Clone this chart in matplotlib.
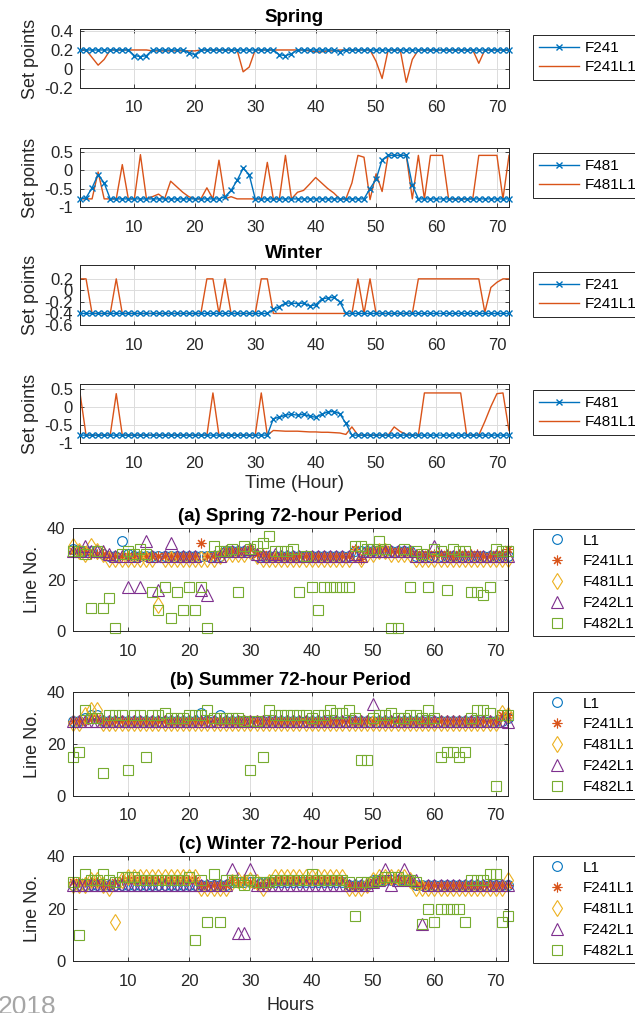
import numpy as np
import matplotlib
matplotlib.use('Agg')
import matplotlib.pyplot as plt

plt.rcParams['font.family'] = ['Liberation Sans', 'DejaVu Sans']
plt.rcParams['axes.unicode_minus'] = False

hours = np.arange(1, 73)

# ---------------- set point traces (top four panels) ----------------
spring_f241 = [
    0.2, 0.2, 0.2, 0.2, 0.2, 0.2, 0.2, 0.2, 0.2, 0.14, 0.13, 0.14,
    0.2, 0.2, 0.2, 0.2, 0.2, 0.2, 0.17, 0.15, 0.2, 0.2, 0.2, 0.2,
    0.2, 0.2, 0.2, 0.2, 0.2, 0.2, 0.2, 0.2, 0.2, 0.15, 0.14, 0.16,
    0.2, 0.2, 0.2, 0.2, 0.2, 0.2, 0.2, 0.18, 0.2, 0.2, 0.2, 0.2,
    0.2, 0.2, 0.2, 0.2, 0.2, 0.2, 0.2, 0.2, 0.2, 0.2, 0.2, 0.2,
    0.2, 0.2, 0.2, 0.2, 0.2, 0.2, 0.2, 0.2, 0.2, 0.2, 0.2, 0.2]
spring_f241l1 = [
    0.2, 0.2, 0.12, 0.04, 0.1, 0.2, 0.2, 0.2, 0.2, 0.2, 0.2, 0.2,
    0.19, 0.19, 0.19, 0.19, 0.19, 0.19, 0.19, 0.19, 0.2, 0.2, 0.2, 0.2,
    0.2, 0.2, 0.2, -0.03, 0.02, 0.2, 0.2, 0.2, 0.2, 0.2, 0.2, 0.2,
    0.2, 0.2, 0.19, 0.18, 0.18, 0.19, 0.19, 0.2, 0.2, 0.2, 0.2, 0.2,
    0.2, 0.08, -0.1, 0.2, 0.2, 0.2, -0.14, 0.1, 0.2, 0.2, 0.2, 0.2,
    0.2, 0.2, 0.2, 0.2, 0.2, 0.2, 0.06, 0.2, 0.2, 0.2, 0.2, 0.2]
spring_f481 = [
    -0.78, -0.75, -0.48, -0.12, -0.35, -0.78, -0.78, -0.78, -0.78, -0.78, -0.78, -0.78,
    -0.78, -0.78, -0.78, -0.78, -0.78, -0.78, -0.78, -0.78, -0.78, -0.78, -0.78, -0.78,
    -0.72, -0.55, -0.28, 0.05, -0.12, -0.78, -0.78, -0.78, -0.78, -0.78, -0.78, -0.78,
    -0.78, -0.78, -0.78, -0.78, -0.78, -0.78, -0.78, -0.78, -0.78, -0.78, -0.78, -0.78,
    -0.5, -0.25, 0.28, 0.4, 0.4, 0.4, 0.4, -0.4, -0.78, -0.78, -0.78, -0.78,
    -0.78, -0.78, -0.78, -0.78, -0.78, -0.78, -0.78, -0.78, -0.78, -0.78, -0.78, -0.78]
spring_f481l1 = [
    -0.78, -0.78, -0.78, -0.05, -0.78, -0.78, -0.78, 0.15, -0.78, -0.78, 0.42, -0.78,
    -0.72, -0.65, -0.78, -0.3, -0.45, -0.6, -0.72, -0.78, -0.78, -0.48, -0.78, 0.27,
    -0.78, -0.72, -0.78, -0.78, -0.78, -0.78, -0.78, 0.21, -0.78, -0.78, 0.4, -0.78,
    -0.6, -0.55, -0.38, -0.2, -0.35, -0.5, -0.62, -0.78, -0.78, -0.35, 0.4, 0.35,
    -0.8, -0.1, -0.58, 0.4, 0.4, 0.4, 0.4, -0.78, 0.4, -0.78, 0.4, 0.4,
    0.4, -0.78, -0.78, -0.78, -0.78, -0.78, 0.4, 0.4, 0.4, 0.4, -0.78, 0.4]
winter_f241 = [
    -0.4, -0.4, -0.4, -0.4, -0.4, -0.4, -0.4, -0.4, -0.4, -0.4, -0.4, -0.4,
    -0.4, -0.4, -0.4, -0.4, -0.4, -0.4, -0.4, -0.4, -0.4, -0.4, -0.4, -0.4,
    -0.4, -0.4, -0.4, -0.4, -0.4, -0.4, -0.4, -0.4, -0.33, -0.28, -0.22, -0.22,
    -0.23, -0.22, -0.27, -0.25, -0.15, -0.13, -0.12, -0.2, -0.4, -0.4, -0.4, -0.4,
    -0.4, -0.4, -0.4, -0.4, -0.4, -0.4, -0.4, -0.4, -0.4, -0.4, -0.4, -0.4,
    -0.4, -0.4, -0.4, -0.4, -0.4, -0.4, -0.4, -0.4, -0.4, -0.4, -0.4, -0.4]
winter_f241l1 = [
    0.2, 0.2, -0.4, -0.4, -0.4, -0.4, 0.2, -0.4, -0.4, -0.4, -0.4, -0.4,
    -0.4, -0.4, -0.4, -0.4, -0.4, -0.4, -0.4, -0.4, -0.4, 0.2, 0.2, -0.4,
    0.2, -0.4, -0.4, -0.4, -0.4, -0.4, 0.2, 0.2, -0.4, -0.4, -0.4, -0.4,
    -0.4, -0.4, -0.4, -0.4, -0.4, -0.4, -0.4, -0.4, -0.4, -0.4, 0.2, -0.4,
    0.2, -0.4, -0.4, -0.4, -0.4, -0.4, -0.4, -0.4, 0.2, 0.2, 0.2, 0.2,
    0.2, 0.2, 0.2, 0.2, 0.2, 0.2, 0.2, -0.38, 0.05, 0.14, 0.2, 0.2]
winter_f481 = [
    -0.78, -0.78, -0.78, -0.78, -0.78, -0.78, -0.78, -0.78, -0.78, -0.78, -0.78, -0.78,
    -0.78, -0.78, -0.78, -0.78, -0.78, -0.78, -0.78, -0.78, -0.78, -0.78, -0.78, -0.78,
    -0.78, -0.78, -0.78, -0.78, -0.78, -0.78, -0.78, -0.78, -0.32, -0.28, -0.22, -0.2,
    -0.22, -0.2, -0.25, -0.28, -0.2, -0.13, -0.12, -0.18, -0.45, -0.78, -0.78, -0.78,
    -0.78, -0.78, -0.78, -0.78, -0.78, -0.78, -0.78, -0.78, -0.78, -0.78, -0.78, -0.78,
    -0.78, -0.78, -0.78, -0.78, -0.78, -0.78, -0.78, -0.78, -0.78, -0.78, -0.78, -0.78]
winter_f481l1 = [
    0.4, -0.78, -0.78, -0.78, -0.78, -0.78, 0.38, -0.78, -0.78, -0.78, -0.78, -0.78,
    -0.78, -0.78, -0.78, -0.78, -0.78, -0.78, -0.78, -0.78, -0.78, -0.78, 0.4, -0.78,
    -0.78, -0.78, -0.78, -0.78, -0.78, -0.78, 0.4, -0.78, -0.65, -0.66, -0.67, -0.67,
    -0.67, -0.68, -0.69, -0.69, -0.7, -0.7, -0.71, -0.72, -0.76, -0.55, -0.78, -0.78,
    -0.78, -0.78, -0.78, -0.78, -0.55, -0.68, -0.76, -0.78, -0.78, 0.4, 0.4, 0.4,
    0.4, 0.4, 0.4, 0.4, -0.78, -0.78, -0.78, -0.4, 0.02, 0.38, 0.4, -0.65]

# ---------------- line numbers (bottom three panels) ----------------
spring_l1 = [
    32, 31, 31, 31, 31, 30, 29, 29, 35, 30, 29, 29,
    29, 29, 29, 29, 29, 29, 29, 29, 29, 29, 29, 29,
    29, 31, 31, 31, 31, 31, 29, 29, 29, 29, 29, 29,
    29, 29, 29, 29, 29, 29, 29, 29, 29, 29, 31, 31,
    31, 31, 31, 31, 31, 31, 31, 31, 29, 29, 29, 29,
    29, 29, 29, 29, 29, 29, 29, 29, 29, 29, 29, 29]
spring_f241l1_ln = [
    31, 31, 31, 30, 30, 30, 29, 29, 29, 29, 29, 29,
    29, 29, 29, 29, 29, 29, 29, 29, 29, 34, 29, 29,
    30, 31, 31, 31, 31, 32, 30, 30, 29, 29, 29, 29,
    29, 29, 29, 29, 29, 29, 29, 29, 29, 29, 32, 28,
    31, 31, 32, 32, 31, 31, 31, 31, 30, 30, 30, 30,
    30, 30, 29, 30, 30, 30, 30, 29, 29, 30, 30, 32]
spring_f481l1_ln = [
    33, 31, 30, 33, 31, 30, 28, 28, 28, 28, 28, 28,
    28, 28, 10, 28, 28, 28, 28, 28, 28, 28, 28, 28,
    29, 30, 30, 30, 30, 31, 29, 28, 28, 28, 28, 28,
    28, 28, 28, 28, 28, 28, 28, 28, 28, 28, 30, 28,
    30, 30, 31, 31, 30, 30, 30, 30, 28, 28, 28, 28,
    28, 28, 28, 28, 28, 28, 28, 28, 28, 28, 28, 28]
spring_f242l1_ln = [
    31, 31, 33, 31, 31, 31, 30, 29, 29, 17, 29, 17,
    35, 29, 16, 29, 34, 29, 29, 29, 29, 16, 14, 29,
    29, 31, 31, 31, 31, 32, 30, 29, 29, 30, 29, 29,
    29, 29, 29, 29, 29, 29, 29, 29, 29, 29, 30, 29,
    31, 31, 31, 31, 31, 31, 31, 31, 29, 29, 29, 33,
    29, 29, 29, 29, 29, 29, 29, 29, 29, 29, 29, 29]
spring_f482l1_ln = [
    31, 31, 30, 9, 31, 9, 13, 1, 30, 31, 30, 32,
    30, 15, 8, 17, 5, 15, 8, 17, 8, 17, 1, 33,
    31, 31, 32, 15, 33, 32, 33, 34, 37, 31, 31, 31,
    32, 15, 29, 17, 8, 17, 17, 17, 17, 17, 33, 33,
    32, 32, 35, 32, 1, 1, 32, 17, 31, 30, 17, 32,
    31, 16, 32, 31, 31, 15, 15, 14, 17, 32, 31, 31]

summer_l1 = [
    29, 29, 30, 31, 31, 29, 29, 29, 29, 29, 29, 29,
    29, 29, 29, 29, 29, 29, 29, 29, 29, 32, 29, 29,
    31, 29, 29, 29, 29, 29, 29, 29, 29, 29, 29, 29,
    29, 29, 29, 29, 29, 29, 29, 29, 29, 29, 29, 29,
    29, 29, 29, 29, 29, 29, 29, 29, 29, 29, 29, 29,
    29, 29, 29, 29, 29, 29, 29, 29, 29, 29, 29, 30]
summer_f241l1_ln = [
    29, 29, 29, 30, 30, 29, 29, 29, 29, 29, 29, 29,
    29, 29, 29, 29, 29, 29, 29, 29, 29, 29, 29, 29,
    29, 29, 29, 29, 29, 29, 29, 29, 29, 29, 29, 29,
    29, 29, 29, 29, 29, 29, 29, 29, 29, 29, 29, 29,
    29, 29, 29, 29, 29, 29, 29, 29, 29, 29, 29, 29,
    29, 29, 29, 29, 29, 29, 29, 29, 29, 29, 31, 31]
summer_f481l1_ln = [
    28, 28, 31, 33, 33, 28, 28, 28, 28, 28, 28, 28,
    28, 28, 28, 28, 28, 28, 28, 28, 28, 28, 28, 28,
    28, 28, 28, 28, 28, 28, 28, 28, 28, 28, 28, 28,
    28, 28, 28, 28, 28, 28, 28, 28, 28, 28, 28, 28,
    28, 28, 28, 28, 28, 28, 28, 28, 28, 28, 28, 28,
    28, 28, 28, 28, 28, 28, 28, 28, 28, 28, 32, 31]
summer_f242l1_ln = [
    29, 29, 29, 29, 29, 29, 29, 29, 29, 29, 29, 29,
    29, 29, 29, 29, 29, 29, 29, 29, 29, 29, 29, 29,
    29, 29, 29, 29, 29, 29, 29, 29, 29, 29, 29, 29,
    29, 29, 29, 29, 29, 29, 29, 29, 29, 29, 29, 29,
    29, 35.5, 29, 29, 29, 29, 29, 29, 29, 29, 29, 29,
    29, 29, 29, 29, 29, 29, 29, 29, 29, 29, 29, 28.5]
summer_f482l1_ln = [
    15, 17, 33, 30, 30, 9, 31, 31, 31, 10, 31, 31,
    15, 31, 31, 32, 30, 30, 30, 31, 31, 31, 33, 30,
    30, 30, 30, 30, 29, 10, 29, 15, 33, 31, 31, 31,
    31, 31, 31, 30, 31, 31, 33, 32, 32, 33, 30, 14,
    14, 30, 31, 31, 32, 30, 30, 31, 31, 30, 33, 30,
    15, 17, 17, 15, 17, 30, 33, 33, 32, 4, 31, 31]

winter_l1 = [
    29, 29, 29, 29, 29, 29, 29, 29, 29, 29, 29, 29,
    29, 29, 29, 29, 29, 29, 29, 29, 29, 29, 29, 29,
    29, 29, 30, 30, 30, 30, 30, 30, 30, 30, 30, 30,
    30, 30, 30, 30, 30, 30, 30, 30, 30, 29, 29, 29,
    29, 31, 31, 31, 31, 31, 31, 31, 29, 29, 29, 29,
    29, 29, 29, 29, 29, 29, 29, 29, 29, 29, 29, 29]
winter_f241l1_ln = [
    30, 30, 30, 30, 30, 29, 29, 30, 31, 31, 31, 31,
    31, 31, 31, 31, 31, 31, 31, 31, 31, 29, 29, 29,
    29, 29, 31, 30, 31, 30, 29, 29, 30, 31, 31, 31,
    31, 31, 31, 31, 31, 31, 31, 31, 31, 29, 29, 29,
    29, 30, 31, 31, 31, 31, 31, 31, 29, 29, 29, 29,
    29, 29, 29, 29, 29, 29, 29, 29, 29, 29, 29, 29]
winter_f481l1_ln = [
    29, 29, 29, 31, 31, 29, 28, 15, 31, 32, 32, 32,
    32, 32, 32, 32, 32, 32, 32, 32, 32, 28, 28, 28,
    28, 28, 30, 31, 30, 31, 30, 28, 30, 32, 32, 32,
    32, 32, 32, 32, 32, 32, 32, 32, 32, 28, 28, 28,
    29, 31, 32, 32, 32, 32, 32, 31, 28, 28, 28, 28,
    28, 28, 28, 28, 28, 28, 28, 28, 28, 28, 28, 31]
winter_f242l1_ln = [
    29, 29, 29, 29, 29, 29, 29, 29, 29, 29, 29, 29,
    29, 29, 29, 29, 29, 29, 29, 29, 29, 29, 29, 29,
    29, 29, 35, 10.5, 10.5, 35, 29, 29, 29, 29, 29, 29,
    29, 29, 29, 29, 29, 29, 29, 29, 29, 29, 29, 29,
    29, 30, 31, 35, 29, 31, 35, 31, 31, 14, 29, 29,
    29, 29, 29, 29, 29, 29, 29, 29, 29, 29, 29, 29]
winter_f482l1_ln = [
    30, 10, 33, 31, 31, 33, 31, 30, 32, 32, 32, 31,
    31, 31, 31, 31, 31, 31, 31, 32, 8, 31, 15, 33,
    15, 31, 31, 30, 29, 31, 30, 30, 30, 31, 31, 31,
    31, 31, 31, 33, 31, 31, 31, 31, 31, 30, 17, 30,
    30, 30, 31, 32, 32, 32, 31, 31, 30, 14, 20, 15,
    20, 20, 20, 20, 15, 31, 31, 31, 33, 33, 15, 17]

# MATLAB default colour order
c_blue, c_orange, c_yellow, c_purple, c_green = '#0072BD', '#D95319', '#EDB120', '#7E2F8E', '#77AC30'
dark = '#262626'

W, H = 635, 1013
fig = plt.figure(figsize=(W / 100, H / 100), dpi=100)


def add_axes(l, t, r, b):
    return fig.add_axes([l / W, 1 - b / H, (r - l) / W, (b - t) / H])


def style(ax, ylim, yticks, yticklabels):
    ax.set_xlim(1, 72)
    ax.set_ylim(*ylim)
    ax.set_xticks([10, 20, 30, 40, 50, 60, 70])
    ax.set_yticks(yticks)
    ax.set_yticklabels(yticklabels)
    ax.grid(True, color='#dcdcdc', lw=0.7)
    ax.set_axisbelow(True)
    ax.tick_params(direction='in', top=True, right=True, length=3, width=0.6,
                   colors=dark, labelsize=12)
    ax.tick_params(axis='x', pad=9)
    ax.tick_params(axis='y', pad=5)
    for s in ax.spines.values():
        s.set_color(dark)
        s.set_linewidth(0.7)


def add_legend(ax, top, labelspacing, borderpad):
    leg = ax.legend(loc='upper left', bbox_to_anchor=(533 / W, 1 - top / H),
                    bbox_transform=fig.transFigure, fontsize=11, frameon=True,
                    fancybox=False, edgecolor=dark, framealpha=1, borderaxespad=0,
                    handlelength=2.6, handletextpad=0.35, labelspacing=labelspacing,
                    borderpad=borderpad, numpoints=1)
    leg.get_frame().set_linewidth(0.7)
    return leg


# ---------------- set point panels ----------------
setpoint_panels = [
    (29, 88, spring_f241, spring_f241l1, 'F241', 'F241L1', (-0.2, 0.42),
     [-0.2, 0, 0.2, 0.4], ['-0.2', '0', '0.2', '0.4'], 'Spring', 35),
    (148, 207, spring_f481, spring_f481l1, 'F481', 'F481L1', (-1, 0.6),
     [-1, -0.5, 0, 0.5], ['-1', '-0.5', '0', '0.5'], None, 153),
    (265, 325, winter_f241, winter_f241l1, 'F241', 'F241L1', (-0.6, 0.44),
     [-0.6, -0.4, -0.2, 0, 0.2], ['-0.6', '-0.4', '-0.2', '0', '0.2'], 'Winter', 272),
    (384, 443, winter_f481, winter_f481l1, 'F481', 'F481L1', (-1, 0.65),
     [-1, -0.5, 0, 0.5], ['-1', '-0.5', '0', '0.5'], None, 390),
]

for i, (t, b, sp, spl, lab1, lab2, ylim, yt, ytl, title, legtop) in enumerate(setpoint_panels):
    ax = add_axes(80, t, 509, b)
    ax.plot(hours, sp, color=c_blue, lw=1.0, marker='x', ms=5, mew=1.0,
            label=lab1, clip_on=False, zorder=3)
    ax.plot(hours, spl, color=c_orange, lw=1.0, label=lab2, zorder=2)
    style(ax, ylim, yt, ytl)
    ax.set_ylabel('Set points', fontsize=13, color=dark)
    if title:
        ax.set_title(title, fontsize=13.5, fontweight='bold', pad=5)
    if i == 3:
        ax.set_xlabel('Time (Hour)', fontsize=13.5, color=dark, labelpad=3)
    add_legend(ax, legtop, 0.3, 0.42)

# ---------------- line number panels ----------------
line_panels = [
    (528, 631, '(a) Spring 72-hour Period',
     [spring_l1, spring_f241l1_ln, spring_f481l1_ln, spring_f242l1_ln, spring_f482l1_ln], 529),
    (692, 796, '(b) Summer 72-hour Period',
     [summer_l1, summer_f241l1_ln, summer_f481l1_ln, summer_f242l1_ln, summer_f482l1_ln], 692),
    (856, 961, '(c) Winter 72-hour Period',
     [winter_l1, winter_f241l1_ln, winter_f481l1_ln, winter_f242l1_ln, winter_f482l1_ln], 856),
]
series_names = ['L1', 'F241L1', 'F481L1', 'F242L1', 'F482L1']
series_colors = [c_blue, c_orange, c_yellow, c_purple, c_green]
series_markers = ['o', (8, 2, 0), 'd', '^', 's']
series_sizes = [7, 7, 8, 8.5, 6.5]

for i, (t, b, title, data, legtop) in enumerate(line_panels):
    ax = add_axes(72.5, t, 508, b)
    for vals, name, col, mk, ms in zip(data, series_names, series_colors,
                                       series_markers, series_sizes):
        ax.plot(hours, vals, linestyle='none', marker=mk, ms=ms, mfc='none',
                mec=col, mew=0.8, label=name, clip_on=False)
    style(ax, (0, 40), [0, 20, 40], ['0', '20', '40'])
    ax.set_ylabel('Line No.', fontsize=13, color=dark)
    ax.set_title(title, fontsize=13.5, fontweight='bold', pad=5)
    if i == 2:
        ax.set_xlabel('Hours', fontsize=13, color=dark, labelpad=6)
    add_legend(ax, legtop, 0.45, 0.3)

fig.text(-0.004, 1 - 995 / H, '2018', fontsize=19, color='#a6a6a6', va='top', ha='left')

fig.savefig('out.png', dpi=100)
